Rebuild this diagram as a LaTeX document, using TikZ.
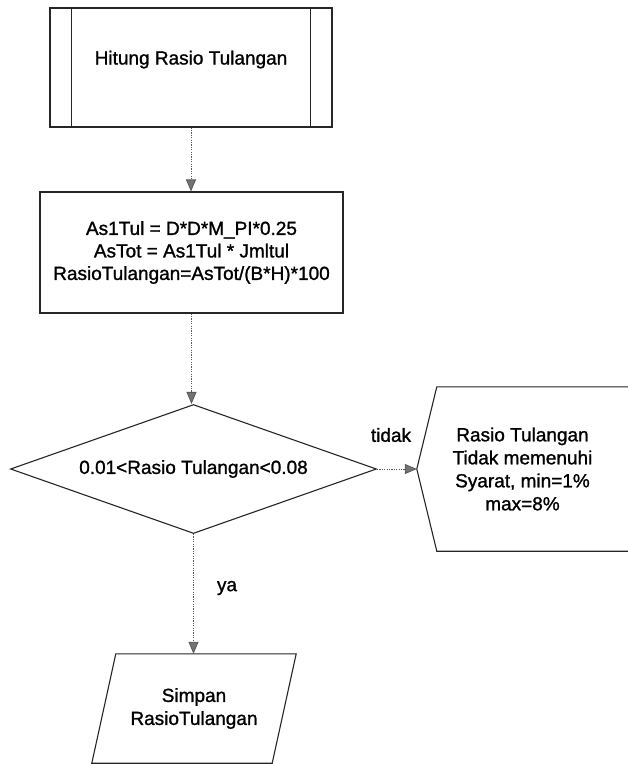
\documentclass[tikz,border=0pt]{standalone}
\usepackage{fontspec}
\setmainfont{Liberation Sans}[RawFeature={embolden=1.2}]
\usetikzlibrary{shapes.geometric,arrows.meta,calc}
\begin{document}
\begin{tikzpicture}[x=1pt,y=-1pt,
  shapeline/.style={draw=black!85,line width=1.1pt},
  box/.style={shapeline,inner sep=0pt,align=center,font=\fontsize{19}{22.5}\selectfont},
  txt/.style={inner sep=0pt,align=center,font=\fontsize{19}{23}\selectfont},
  flow/.style={draw=black!65,line width=0.8pt,dash pattern=on 1.2pt off 1.2pt,
    -{Triangle[width=10pt,length=12pt,fill=black!55]}}]
\useasboundingbox (0,0) rectangle (628,764);
\fill[white] (0,0) rectangle (628,764);

% predefined process
\node[box,minimum width=282pt,minimum height=119pt,text height=14pt,text depth=20pt] (pp) at (191,67.5) {Hitung Rasio Tulangan};
\draw[shapeline] ($(pp.north west)+(22,0)$) -- ($(pp.south west)+(22,0)$);
\draw[shapeline] ($(pp.north east)+(-22,0)$) -- ($(pp.south east)+(-22,0)$);

% process
\node[box,minimum width=303pt,minimum height=121pt] (proc) at (191.5,252.5)
  {As1Tul = D*D*M\_PI*0.25\\AsTot = As1Tul * Jmltul\\RasioTulangan=AsTot/(B*H)*100};

% decision
\node[box,diamond,minimum width=366pt,minimum height=129pt,shape aspect=2.84] (dia) at (193.5,469)
  {0.01<Rasio Tulangan<0.08};

% display
\node[txt,minimum width=211pt,minimum height=164pt] (disp) at (522.5,469)
  {Rasio Tulangan\\Tidak memenuhi\\Syarat, min=1\%\\max=8\%};
\draw[shapeline] (disp.north east) -- ($(disp.north west)+(20,0)$) -- (disp.west)
  -- ($(disp.south west)+(20,0)$) -- (disp.south east);

% output
\node[txt,minimum width=180pt,minimum height=109pt] (save) at (194,708.5) {Simpan\\RasioTulangan};
\draw[shapeline] ($(save.north west)+(12,0)$) -- ($(save.north east)+(12,0)$)
  -- ($(save.south east)+(-12,0)$) -- ($(save.south west)+(-12,0)$) -- cycle;

% connectors
\draw[flow] (pp.south) -- (pp.south |- proc.north);
\draw[flow] (proc.south) -- (proc.south |- dia.north);
\draw[flow] (dia.east) -- (disp.west);
\draw[flow] (dia.south) -- (dia.south |- save.north);

% labels
\node[txt] (tidak) at (391,435) {tidak};
\node[txt] (ya) at (227,588) {ya};
\end{tikzpicture}
\end{document}
